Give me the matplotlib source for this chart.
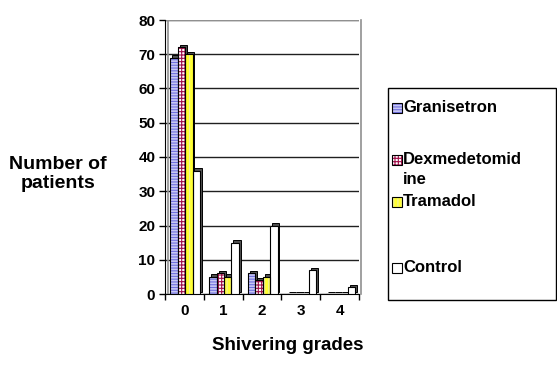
import matplotlib
matplotlib.use("Agg")
import matplotlib.pyplot as plt
import numpy as np
from matplotlib.patches import Rectangle

plt.rcParams['font.family'] = ['Liberation Sans', 'DejaVu Sans']
plt.rcParams['font.weight'] = 'bold'
plt.rcParams['hatch.linewidth'] = 0.8

grades = ["0", "1", "2", "3", "4"]
groups = ["Granisetron", "Dexmedetomidine", "Tramadol", "Control"]
granisetron = [69, 5, 6, 0, 0]
dexmedetomidine = [72, 6, 4, 0, 0]
tramadol = [70, 5, 5, 0, 0]
control = [36, 15, 20, 7, 2]

series = [granisetron, dexmedetomidine, tramadol, control]
faces = ["#c8c8f4", "#ffffff", "#ffff33", "#ffffff"]
hatch_col = ["#7070e0", "#a0104a", "#f0f0a0", "#ffffff"]
hatches = ["------", "+++++", "||||", ""]

W, H = 557, 386
fig = plt.figure(figsize=(W / 100, H / 100), dpi=100)
ax = fig.add_axes([165 / W, 1 - 294 / H, (359 - 165) / W, (294 - 20) / H])

x = np.arange(len(grades))
bw = 0.19
dx, dy = 0.05, 0.7   # fake 3d depth

for i, vals in enumerate(series):
    pos = x + (i - 1.5) * bw + 0.02
    vals = np.array(vals, dtype=float)
    # side/top shading behind the bar
    ax.bar(pos + dx, vals, bw, bottom=dy, color="#505050", edgecolor="black",
           linewidth=0.7, zorder=2)
    ax.bar(pos, vals, bw, color=faces[i], edgecolor=hatch_col[i], hatch=hatches[i],
           linewidth=0, zorder=3)
    ax.bar(pos, vals, bw, color="none", edgecolor="black", linewidth=0.8, zorder=4)

ax.set_xlim(-0.5, 4.5)
ax.set_ylim(0, 80)
ax.set_yticks(np.arange(0, 81, 10))
ax.tick_params(axis='y', length=4, width=1, labelsize=11, pad=3)
ax.yaxis.grid(True, color="#202020", linewidth=1)
ax.set_axisbelow(True)

ax.set_xticks(np.arange(-0.5, 5, 1))
ax.set_xticklabels([])
ax.set_xticks(x, minor=True)
ax.set_xticklabels(grades, minor=True)
ax.tick_params(axis='x', which='major', length=4, width=1)
ax.tick_params(axis='x', which='minor', length=0, labelsize=11, pad=7)

for s in ["top", "right"]:
    ax.spines[s].set_visible(False)
ax.spines["left"].set_color("black")
ax.spines["bottom"].set_color("black")
# back wall edges
ax.axvline(-0.42, color="#909090", linewidth=1.2, zorder=1)
ax.axvline(4.56, color="#909090", linewidth=1.2, zorder=1, clip_on=False)
ax.axhline(80, color="#909090", linewidth=0.8, zorder=1)

fig.text(58 / W, 1 - 174 / H, "Number of\npatients", ha="center", va="center",
         fontsize=14, fontweight="bold", linespacing=1.15)
fig.text(288 / W, 1 - 345 / H, "Shivering grades", ha="center",
         va="center", fontsize=13.5, fontweight="bold")

# legend box
fig.patches.append(Rectangle((388 / W, 1 - 300 / H), (556 - 388) / W, (300 - 88) / H,
                             transform=fig.transFigure, fill=False, edgecolor="black",
                             linewidth=1))
labels = ["Granisetron", "Dexmedetomid\nine", "Tramadol", "Control"]
label_y = [108, 160, 202, 268]
for i, lab in enumerate(labels):
    yc = 1 - label_y[i] / H
    fig.patches.append(Rectangle((392 / W, yc - 5 / H), 10 / W, 10 / H,
                                 transform=fig.transFigure, facecolor=faces[i],
                                 edgecolor=hatch_col[i], hatch=hatches[i], linewidth=0))
    fig.patches.append(Rectangle((392 / W, yc - 5 / H), 10 / W, 10 / H,
                                 transform=fig.transFigure, fill=False,
                                 edgecolor="black", linewidth=0.8))
    fig.text(403 / W, yc + 7.5 / H, lab, ha="left", va="top", fontsize=12,
             fontweight="bold", linespacing=1.4)

fig.savefig("out.png", dpi=100)
